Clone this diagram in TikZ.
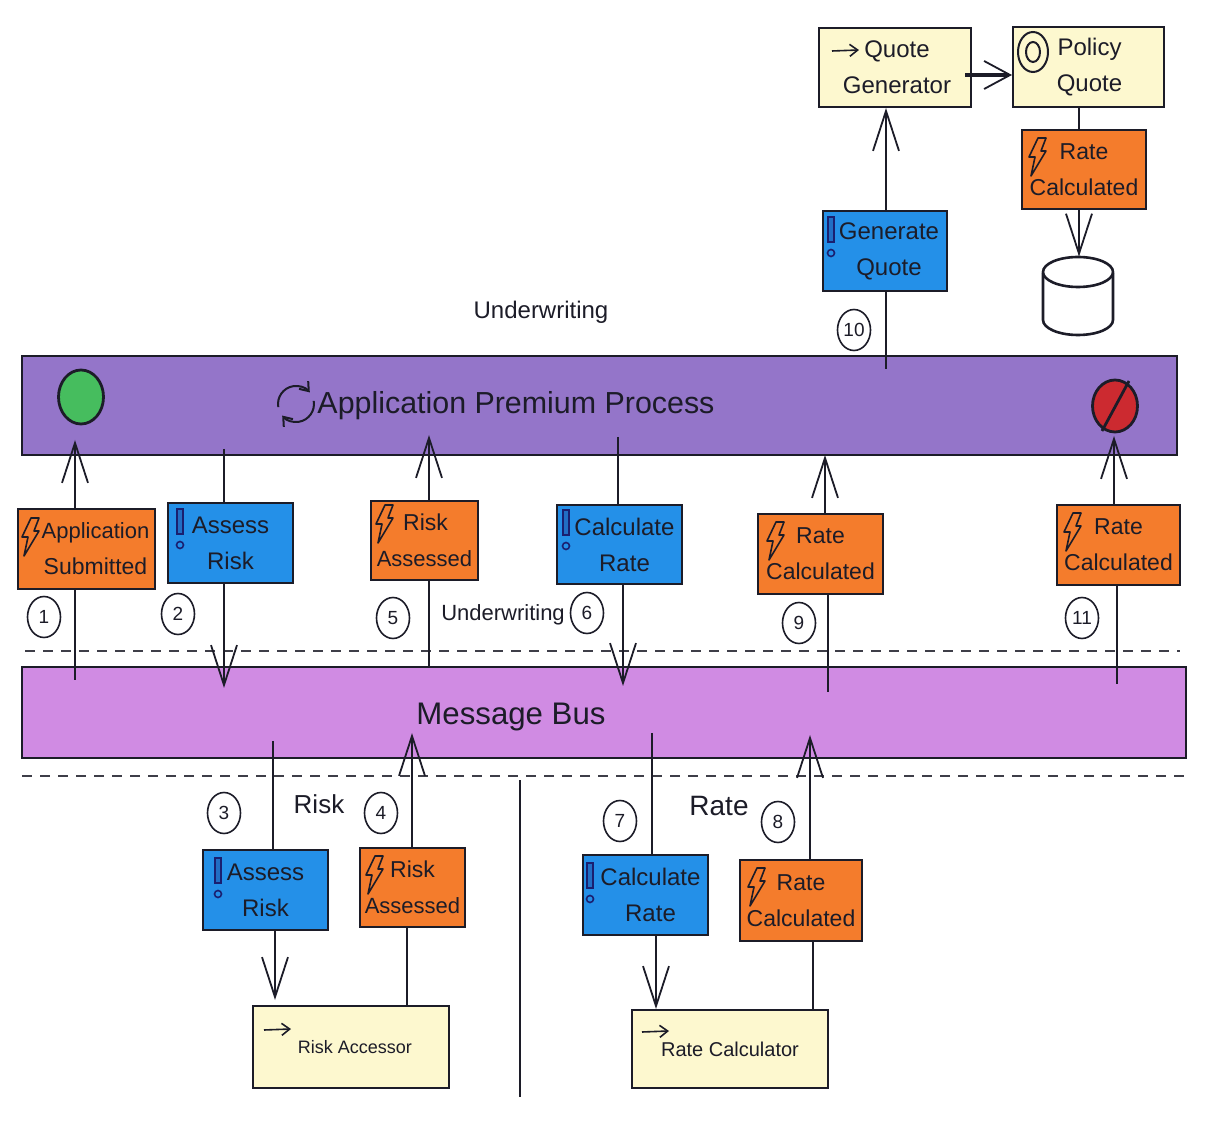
\documentclass[tikz,border=0pt]{standalone}
\usepackage{fontspec}
\setmainfont{Liberation Sans}
\usetikzlibrary{arrows.meta,shapes.geometric}
\definecolor{ink}{HTML}{1C1C28}
\definecolor{procc}{HTML}{9475C9}
\definecolor{busc}{HTML}{D08BE3}
\definecolor{evc}{HTML}{F47C2C}
\definecolor{cmdc}{HTML}{2490E8}
\definecolor{agc}{HTML}{FDF8CF}
\definecolor{greenc}{HTML}{46BD5E}
\definecolor{redc}{HTML}{CC2A30}
\definecolor{cmdink}{HTML}{1A1F70}
\newcommand{\fs}[1]{\fontsize{#1}{18}\selectfont}
\newcommand{\bx}[7]{\node[#1,minimum width={(#5-#3)*0.5pt},minimum height={(#6-#4)*0.5pt}] (#2) at ({(#3+#5)/2},{(#4+#6)/2}) {#7};}
\newcommand{\boltat}[2]{\draw[ink,line width=0.8pt,line join=round,shift={(#1,#2)}] (9,0) -- (17,0) -- (12,13) -- (17,13) -- (2,38) -- (6,19) -- (0,19) -- cycle;}
\newcommand{\bangat}[2]{\draw[cmdink,line width=0.8pt,fill=cmdc!70!cmdink,shift={(#1,#2)}] (-3,0) rectangle (3,25);\draw[cmdink,line width=0.8pt] (#1,#2+36) circle (3.5);}
\newcommand{\enterat}[2]{\draw[ink,line width=0.8pt,-{Straight Barb[length=4pt,width=6pt]}] (#1,#2) -- ++(27,-1);}
\tikzset{
  x=0.5pt,y=-0.5pt,
  bar/.style={draw=ink,line width=1pt,inner sep=0pt},
  sbox/.style={draw=ink,line width=1pt,inner sep=0pt,align=center,font=\fs{12},text=ink},
  evbox/.style={sbox,fill=evc,font=\fs{11.5}},
  cmdbox/.style={sbox,fill=cmdc},
  agbox/.style={sbox,fill=agc},
  num/.style={draw=ink,ellipse,line width=0.8pt,fill=white,minimum width=16.5pt,minimum height=20.5pt,inner sep=0pt,font=\fs{9.5},text=ink},
  lbl/.style={font=\fs{12},text=ink,inner sep=0pt},
  link/.style={draw=ink,line width=1pt},
  go/.style={link,-{Straight Barb[length=20pt,width=13pt,line width=0.9pt]}},
  bandline/.style={draw=ink!85,line width=1.2pt,dash pattern=on 5pt off 4pt},
  smalltip/.style={ink,line width=1pt,-{Straight Barb[length=4pt,width=6pt]}},
}
\begin{document}
\begin{tikzpicture}
\useasboundingbox (0,0) rectangle (1232,1122);
\fill[white] (0,0) rectangle (1232,1122);

% bars
\bx{bar,fill=procc}{proc}{22}{356}{1177}{455}{}
\bx{bar,fill=busc}{bus}{22}{667}{1186}{758}{}
\coordinate (d1a) at (25,651); \coordinate (d1b) at (1180,651);
\coordinate (d2a) at (22,776); \coordinate (d2b) at (1185,776);
\draw[bandline] (d1a) -- (d1b);
\draw[bandline] (d2a) -- (d2b);
\coordinate (va) at (520,780); \coordinate (vb) at (520,1097);
\draw[ink,line width=0.8pt] (va) -- (vb);

% titles
\node[lbl,font=\fs{15.2}] (title) at (516,406) {Application Premium Process};
\node[lbl,font=\fs{15.6}] (mbus) at (511,717) {Message Bus};
\node[lbl] (uw1) at (541,312) {Underwriting};
\node[lbl,font=\fs{11}] (uw2) at (503,615) {Underwriting};
\node[lbl,font=\fs{13}] (risk) at (319,804) {Risk};
\node[lbl,font=\fs{14}] (rate) at (719,806) {Rate};

% start / end
\node[draw=ink,ellipse,line width=1.4pt,fill=greenc,minimum width=22.5pt,minimum height=27pt,inner sep=0pt] (start) at (81,397) {};
\node[draw=ink,ellipse,line width=1.4pt,fill=redc,minimum width=22.5pt,minimum height=26pt,inner sep=0pt] (stop) at (1115,406) {};
\coordinate (sa) at (1102,431); \coordinate (sb) at (1129,381);
\draw[ink,line width=1.4pt] (sa) -- (sb);

% cycle icon
\draw[smalltip] (278.3,407.1) arc (170:320:18);
\draw[smalltip] (313.7,400.9) arc (-10:140:18);

% boxes
\bx{evbox}{e1}{18}{509}{155}{589}{\fs{11}\hspace*{9pt}Application\\\hspace*{9pt}Submitted}
\bx{cmdbox}{c2}{168}{503}{293}{583}{Assess\\Risk}
\bx{evbox}{e5}{371}{501}{478}{580}{\hspace*{1pt}Risk\\\fs{11}Assessed}
\bx{cmdbox}{c6}{557}{505}{682}{584}{\hspace*{5pt}Calculate\\\hspace*{5pt}Rate}
\bx{evbox}{e9}{758}{514}{883}{594}{Rate\\Calculated}
\bx{evbox}{e11}{1057}{505}{1180}{585}{Rate\\Calculated}
\bx{cmdbox}{c3}{203}{850}{328}{930}{Assess\\Risk}
\bx{evbox}{e4}{360}{848}{465}{927}{Risk\\\fs{11}Assessed}
\bx{cmdbox}{c7}{583}{855}{708}{935}{\hspace*{5pt}Calculate\\\hspace*{5pt}Rate}
\bx{evbox}{e8}{740}{860}{862}{941}{Rate\\Calculated}
\bx{agbox,font=\fs{9}}{ra}{253}{1006}{449}{1088}{\hspace*{4pt}Risk Accessor}
\bx{agbox,font=\fs{10}}{rc}{632}{1010}{828}{1088}{Rate Calculator}
\bx{agbox}{qg}{819}{28}{971}{107}{\hspace*{2pt}Quote\\\hspace*{2pt}Generator}
\bx{agbox}{pq}{1013}{27}{1164}{107}{\hspace*{1pt}Policy\\\hspace*{1pt}Quote}
\bx{evbox}{e12}{1022}{130}{1146}{209}{Rate\\Calculated}
\bx{cmdbox}{c10}{823}{211}{947}{291}{\hspace*{4pt}Generate\\\hspace*{4pt}Quote}

% icons
\boltat{22}{518}
\boltat{376}{505}
\boltat{767}{522}
\boltat{1064}{513}
\boltat{366}{856}
\boltat{748}{868}
\boltat{1029}{138}
\bangat{180}{509}
\bangat{566}{510}
\bangat{218}{858}
\bangat{590}{863}
\bangat{831}{217}
\enterat{264}{1030}
\enterat{642}{1032}
\enterat{832}{51}
\draw[ink,line width=1pt] (1033,52) ellipse (15 and 20);
\draw[ink,line width=1pt] (1033,52) ellipse (7 and 10);

% database
\node[minimum width=35pt,minimum height=39pt,inner sep=0pt] (db) at (1078,296) {};
\draw[ink,line width=1.3pt,fill=white] (1043,273) -- (1043,320) arc (180:0:35 and 15) -- (1113,273);
\draw[ink,line width=1.3pt,fill=white] (1078,272) ellipse (35 and 15);

% connectors
\coordinate (b1) at (75,680);   \coordinate (t1) at (75,440);
\coordinate (p2) at (224,449);  \coordinate (t2) at (224,688);
\coordinate (b5) at (429,667);  \coordinate (t5) at (429,435);
\coordinate (p6) at (618,437);  \coordinate (t6) at (623,686);
\coordinate (b9) at (828,692);  \coordinate (t9) at (825,455);
\coordinate (b11) at (1117,684);\coordinate (t11) at (1114,436);
\coordinate (p10) at (886,369); \coordinate (m10) at (886,250);
\coordinate (b3) at (273,741);  \coordinate (t3) at (275,1000);
\coordinate (a4) at (407,1000); \coordinate (t4) at (412,733);
\coordinate (b7) at (652,733);  \coordinate (m7) at (656,900);
\coordinate (a8) at (813,1000); \coordinate (t8) at (810,735);
\coordinate (m0) at (965,75);

\draw[link] (b1) -- (e1.south -| b1);
\draw[go] (e1.north -| b1) -- (t1);
\draw[link] (p2) -- (c2.north -| p2);
\draw[go] (c2.south -| p2) -- (t2);
\draw[link] (b5) -- (e5.south -| b5);
\draw[go] (e5.north -| b5) -- (t5);
\draw[link] (p6) -- (c6.north -| p6);
\draw[go] (c6.south -| t6) -- (t6);
\draw[link] (b9) -- (e9.south -| b9);
\draw[go] (e9.north -| t9) -- (t9);
\draw[link] (b11) -- (e11.south -| b11);
\draw[go] (e11.north -| t11) -- (t11);
\draw[link] (p10) -- (c10.south -| p10);
\draw[go] (c10.north -| m10) -- (qg.south -| m10);
\draw[link,line width=1.6pt,-{Straight Barb[length=13pt,width=14pt,line width=0.9pt]}] (m0) -- (pq.west |- m0);
\coordinate (m12) at (1079,170);
\draw[link] (pq.south -| m12) -- (e12.north -| m12);
\draw[go] (e12.south -| m12) -- (db.north -| m12);
\draw[link] (b3) -- (c3.north -| b3);
\draw[go] (c3.south -| t3) -- (t3);
\draw[link] (ra.north -| a4) -- (e4.south -| a4);
\draw[go] (e4.north -| t4) -- (t4);
\draw[link] (b7) -- (c7.north -| b7);
\draw[go] (c7.south -| m7) -- (rc.north -| m7);
\draw[link] (rc.north -| a8) -- (e8.south -| a8);
\draw[go] (e8.north -| t8) -- (t8);

% step numbers
\node[num] (n1) at (44,617) {1};
\node[num] (n2) at (178,614) {2};
\node[num] (n5) at (393,618) {5};
\node[num] (n6) at (587,613) {6};
\node[num] (n9) at (799,623) {9};
\node[num] (n11) at (1082,618) {11};
\node[num] (n10) at (854,330) {10};
\node[num] (n3) at (224,813) {3};
\node[num] (n4) at (381,813) {4};
\node[num] (n7) at (620,821) {7};
\node[num] (n8) at (778,822) {8};
\end{tikzpicture}
\end{document}
